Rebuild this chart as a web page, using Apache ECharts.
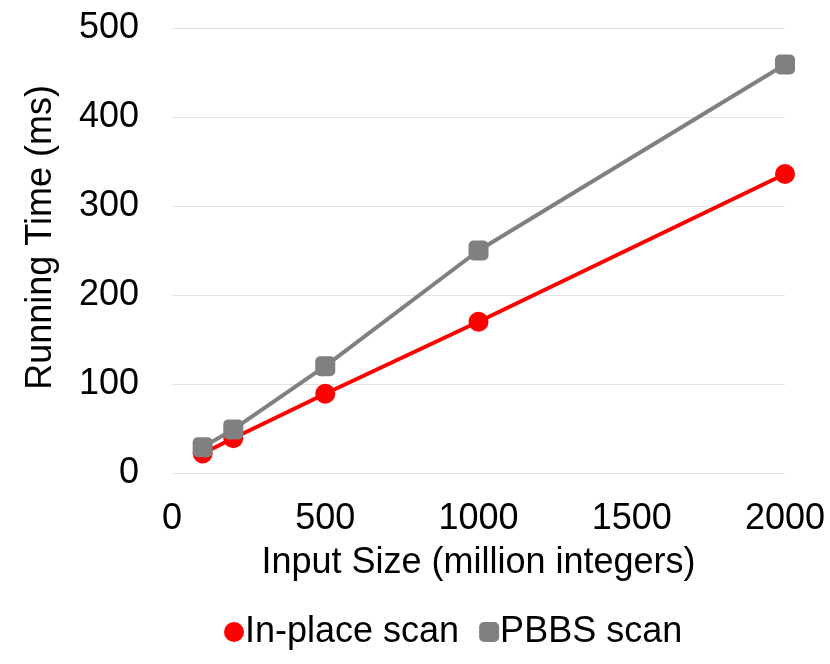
<!DOCTYPE html>
<html lang="en">
  <head>
    <meta charset="UTF-8" />
    <title>Scan running time</title>
    <script src="https://cdn.jsdelivr.net/npm/echarts@6/dist/echarts.min.js"></script>
  </head>
  <body style="margin: 0">
    <div id="chart" style="width: 830px; height: 664px"></div>
  </body>
  <script>
    // input sizes (million integers)
    let sizes = [100, 200, 500, 1000, 2000];
    // running times (ms)
    let inPlace = [22, 39, 89, 170, 336];
    let pbbs = [29, 49, 120, 250, 459];
    let seriesNames = ["In-place scan", "PBBS scan"];

    let font = "Liberation Sans, Arial, sans-serif";
    let fs = 36;
    let pairs = (ys) => sizes.map((x, i) => [x, ys[i]]);

    let chart = echarts.init(document.getElementById("chart"));
    chart.setOption({
      backgroundColor: "#fff",
      animation: false,
      textStyle: { fontFamily: font },
      grid: { left: 172, right: 45, top: 28, bottom: 191 },
      legend: {
        bottom: 9,
        left: 219,
        itemGap: 20,
        itemWidth: 20,
        itemHeight: 20,
        textStyle: { fontSize: fs, color: "#000", fontFamily: font, padding: [0, 0, 0, -4] },
        data: [
          { name: seriesNames[0], icon: "circle" },
          { name: seriesNames[1], icon: "roundRect" },
        ],
      },
      xAxis: {
        type: "value",
        min: 0,
        max: 2000,
        interval: 500,
        name: "Input Size (million integers)",
        nameLocation: "middle",
        nameGap: 72,
        nameTextStyle: { fontSize: fs, color: "#000" },
        axisLine: { show: false },
        axisTick: { show: false },
        splitLine: { show: false },
        axisLabel: { fontSize: fs, color: "#000", margin: 28, formatter: (v) => String(v) },
      },
      yAxis: {
        type: "value",
        min: 0,
        max: 500,
        interval: 100,
        name: "Running Time (ms)",
        nameLocation: "middle",
        nameGap: 113,
        nameTextStyle: { fontSize: fs, color: "#000", padding: [0, 0, 0, 26] },
        axisLine: { show: false },
        axisTick: { show: false },
        splitLine: { lineStyle: { color: "#e3e3e3", width: 1 } },
        axisLabel: { fontSize: fs, color: "#000", margin: 33 },
      },
      series: [
        {
          name: seriesNames[0],
          type: "line",
          data: pairs(inPlace),
          symbol: "circle",
          symbolSize: 20,
          lineStyle: { color: "#ff0000", width: 4 },
          itemStyle: { color: "#ff0000" },
        },
        {
          name: seriesNames[1],
          type: "line",
          data: pairs(pbbs),
          symbol: "roundRect",
          symbolSize: 20,
          lineStyle: { color: "#808080", width: 4 },
          itemStyle: { color: "#808080" },
        },
      ],
    });
  </script>
</html>
